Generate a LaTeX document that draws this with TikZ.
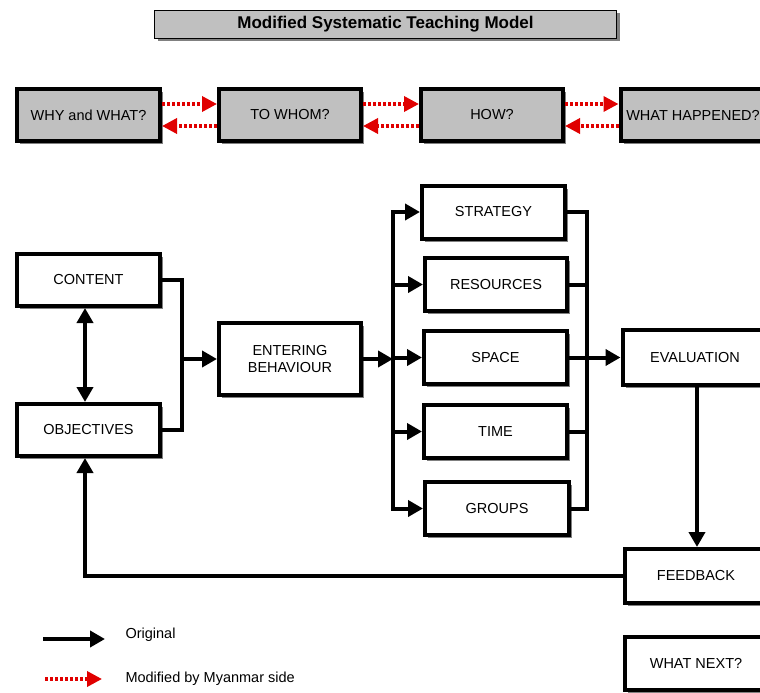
\documentclass[tikz,border=0pt]{standalone}
\usepackage{fontspec}
\setmainfont{Liberation Sans}
\usetikzlibrary{arrows.meta,shadows,calc}

\definecolor{boxgray}{HTML}{C0C0C0}
\definecolor{linkred}{HTML}{E00000}

\tikzset{
  shade3/.style={drop shadow={shadow xshift=3pt, shadow yshift=-3pt, fill=black!50, opacity=1}},
  box/.style={draw=black, line width=4pt, fill=white, shade3, inner sep=2pt,
    font=\fontsize{14.5}{16.5}\selectfont, align=center},
  graybox/.style={box, fill=boxgray},
  titlebox/.style={draw=black, line width=1.3pt, fill=boxgray, shade3,
    font=\bfseries\fontsize{17}{19}\selectfont},
  conn/.style={draw=black, line width=4pt, line cap=rect},
  arr/.style={conn, line cap=butt, -{Triangle[length=15pt,width=16pt]}},
  dualarr/.style={conn, line cap=butt, {Triangle[length=15pt,width=16pt]}-{Triangle[length=15pt,width=16pt]}},
  redarr/.style={draw=linkred, line width=3.5pt, dash pattern=on 3pt off 2pt,
    -{Triangle[length=15pt,width=15pt]}},
  legendtext/.style={font=\fontsize{14.5}{16.5}\selectfont, anchor=west},
}

\begin{document}
\begin{tikzpicture}[x=1pt,y=-1pt]
\useasboundingbox (0,0) rectangle (760,693);
\clip (0,0) rectangle (760,693);

% title
\node[titlebox, minimum width=462pt, minimum height=28pt] (title) at (385.5,24.5)
  {Modified Systematic Teaching Model};

% guiding questions
\node[graybox, minimum width=143pt, minimum height=52pt] (why) at (88.5,115) {WHY and WHAT?};
\node[graybox, minimum width=142pt, minimum height=52pt] (towhom) at (290,115) {TO WHOM?};
\node[graybox, minimum width=142pt, minimum height=52pt] (how) at (492,115) {HOW?};
\node[graybox, minimum width=145pt, minimum height=52pt] (happened) at (693,115) {WHAT HAPPENED?};

\draw[redarr] ([yshift=11pt]why.east) -- ([yshift=11pt]towhom.west);
\draw[redarr] ([yshift=-11pt]towhom.west) -- ([yshift=-11pt]why.east);
\draw[redarr] ([yshift=11pt]towhom.east) -- ([yshift=11pt]how.west);
\draw[redarr] ([yshift=-11pt]how.west) -- ([yshift=-11pt]towhom.east);
\draw[redarr] ([yshift=11pt]how.east) -- ([yshift=11pt]happened.west);
\draw[redarr] ([yshift=-11pt]happened.west) -- ([yshift=-11pt]how.east);

% model blocks
\node[box, minimum width=143pt, minimum height=52pt] (content) at (88.5,280) {CONTENT};
\node[box, minimum width=143pt, minimum height=52pt] (objectives) at (88.5,430) {OBJECTIVES};
\node[box, minimum width=142pt, minimum height=72pt] (entering) at (290,359) {ENTERING\\[0pt]BEHAVIOUR};

\node[box, minimum width=143pt, minimum height=53pt] (strategy) at (493.5,212) {STRATEGY};
\node[box, minimum width=142pt, minimum height=53pt] (resources) at (496,284.5) {RESOURCES};
\node[box, minimum width=143pt, minimum height=53pt] (space) at (495.5,357.5) {SPACE};
\node[box, minimum width=143pt, minimum height=53pt] (time) at (495.5,431.5) {TIME};
\node[box, minimum width=144pt, minimum height=53pt] (groups) at (497,508.5) {GROUPS};

\node[box, minimum width=145pt, minimum height=55pt] (evaluation) at (695,357.5) {EVALUATION};
\node[box, minimum width=143pt, minimum height=54pt] (feedback) at (696,576) {FEEDBACK};
\node[box, minimum width=143pt, minimum height=53pt] (whatnext) at (696,663.5) {WHAT NEXT?};

% content / objectives into entering behaviour
\draw[dualarr] ([xshift=-3.5pt]content.south) -- ([xshift=-3.5pt]objectives.north);
\coordinate (lb) at (182,359);
\draw[conn] (content.east) -| (lb);
\draw[conn] (objectives.east) -| (lb);
\draw[arr] (lb) -- (entering.west);

% fan out to the teaching decisions
\coordinate (fan) at (393,359);
\draw[arr] (entering.east) -- (fan);
\draw[conn] (fan |- strategy.west) -- (fan |- groups.west);
\foreach \n in {strategy,resources,space,time,groups}
  \draw[arr] (fan |- \n.west) -- (\n.west);

% gather into evaluation
\coordinate (gather) at (587,357.5);
\draw[conn] (gather |- strategy.east) -- (gather |- groups.east);
\foreach \n in {strategy,resources,space,time,groups}
  \draw[conn] (\n.east) -- (gather |- \n.east);
\draw[arr] (gather) -- (evaluation.west);

% evaluation to feedback and back to objectives
\coordinate (drop) at (697,0);
\draw[arr] (drop |- evaluation.south) -- (drop |- feedback.north);
\draw[arr, line cap=butt] (feedback.west) -| ([xshift=-3.5pt]objectives.south);

% legend
\coordinate (la1) at (43,639);
\coordinate (la2) at (105,639);
\draw[arr] (la1) -- (la2);
\node[legendtext] (lorig) at (122,635) {Original};
\coordinate (lb1) at (45,679);
\coordinate (lb2) at (102,679);
\draw[redarr] (lb1) -- (lb2);
\node[legendtext] (lmod) at (122,679) {Modified by Myanmar side};
\end{tikzpicture}
\end{document}
